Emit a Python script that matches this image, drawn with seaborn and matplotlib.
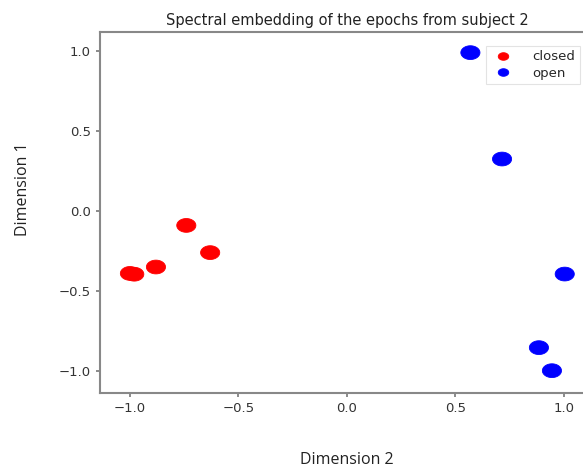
import numpy as np
import pandas as pd
import seaborn as sns
import matplotlib.pyplot as plt
from matplotlib.path import Path

# spectral embedding coordinates
closed_x = [-1.00, -0.98, -0.88, -0.74, -0.63]
closed_y = [-0.39, -0.395, -0.35, -0.09, -0.26]
open_x = [0.57, 0.716, 1.005, 0.886, 0.946]
open_y = [0.99, 0.325, -0.394, -0.854, -0.998]

df = pd.DataFrame({
    "Dimension 2": closed_x + open_x,
    "Dimension 1": closed_y + open_y,
    "state": ["closed"] * len(closed_x) + ["open"] * len(open_x),
})

# the original image is stretched sideways, so the dots are ellipses
t = np.linspace(0, 2 * np.pi, 60)
ellipse = Path(np.column_stack([np.cos(t), 0.72 * np.sin(t)]), closed=True)

sns.set_style("white")
plt.rcParams["font.family"] = ["DejaVu Sans"]

fig = plt.figure(figsize=(5.83, 4.70), dpi=100)
ax = fig.add_axes([100 / 583, 77 / 470, 494 / 583, 361 / 470])

sns.scatterplot(data=df, x="Dimension 2", y="Dimension 1", hue="state",
                palette={"closed": "red", "open": "blue"}, marker=ellipse,
                s=190, linewidth=0.6, edgecolor=None, ax=ax, legend=True)
for coll in ax.collections:
    coll.set_edgecolor(coll.get_facecolor())

ax.set_xlim(-1.138, 1.14)
ax.set_ylim(-1.1375, 1.119)
ax.set_xticks([-1.0, -0.5, 0.0, 0.5, 1.0])
ax.set_yticks([-1.0, -0.5, 0.0, 0.5, 1.0])
ax.tick_params(axis="both", labelsize=9.5, colors="#777777", labelcolor="#333333",
               length=3, width=1.2, bottom=True, left=True)
for side in ["left", "bottom", "top"]:
    ax.spines[side].set_color("#888888")
    ax.spines[side].set_linewidth(1.5)
ax.spines["right"].set_visible(False)

ax.set_xlabel("")
ax.set_ylabel("")
ax.set_title("Spectral embedding of the epochs from subject 2", fontsize=10.5,
             color="#222222", pad=5)

fig.text(347 / 583, 1 - 460 / 470, "Dimension 2", ha="center", va="center",
         fontsize=11.5, family="Open Sans", color="#222222")
fig.text(23 / 583, 1 - 189 / 470, "Dimension 1", ha="center", va="center",
         rotation=90, fontsize=11.5, family="Open Sans", color="#222222")

leg = ax.legend(loc="upper left", bbox_to_anchor=(479 / 583, 1 - 39 / 470),
                bbox_transform=fig.transFigure, fontsize=9.5, markerscale=0.55,
                frameon=True, handletextpad=1.2, borderpad=0.35,
                labelspacing=0.25, title=None)
leg.get_frame().set_edgecolor("#dddddd")
leg.get_frame().set_linewidth(0.8)
leg.get_frame().set_boxstyle("square", pad=0)

fig.savefig("out.png", dpi=100)
